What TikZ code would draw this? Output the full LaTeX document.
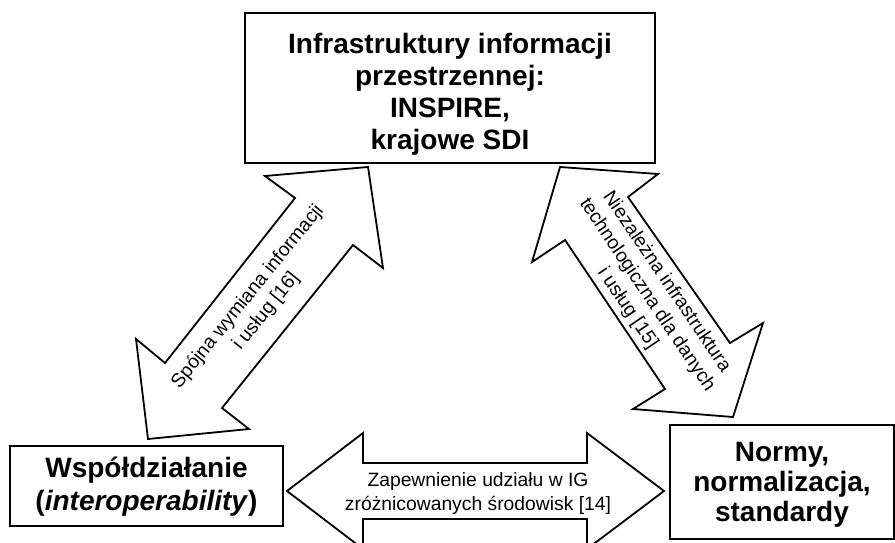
\documentclass[tikz,border=0pt]{standalone}
\usepackage{fontspec}
\setmainfont{Liberation Sans}
\begin{document}
\begin{tikzpicture}[x=1pt,y=-1pt,
  box/.style={draw=black, line width=2.2pt, rectangle, inner sep=0pt},
  title/.style={font=\fontsize{28}{32}\selectfont\bfseries, align=center, inner sep=0pt},
  blockarrow/.style={draw=black, line width=1.8pt, fill=white, line join=miter},
  note/.style={font=\fontsize{19.3}{23.5}\selectfont, align=center, inner sep=0pt}]
\clip (0,0) rectangle (895,542);
\fill[white] (0,0) rectangle (895,542);

% the three boxes
\node[box, minimum width=410pt, minimum height=150pt] (sdi) at (450,88) {};
\node[box, minimum width=273pt, minimum height=80pt] (interop) at (146.5,486) {};
\node[box, minimum width=224pt, minimum height=114pt] (norms) at (782,482) {};

\node[title] (sditext) at (450,94) {Infrastruktury informacji\\ przestrzennej:\\ INSPIRE,\\ krajowe SDI};
\node[title, font=\fontsize{28}{33}\selectfont\bfseries] (interoptext) at (146.5,486.5) {Współdziałanie\\ (\textit{interoperability})};
\node[title, font=\fontsize{28}{30}\selectfont\bfseries] (normstext) at (782,485) {Normy,\\ normalizacja,\\ standardy};

% block double arrows between the boxes
\draw[blockarrow] (368,167) coordinate (la1) -- (383,268) -- (353,245) -- (222,408) -- (249,429)
  -- (148,439) coordinate (la2) -- (136,339) -- (165,363) -- (295,198) -- (265,176) -- cycle;
\draw[blockarrow] (560,167) coordinate (ra1) -- (658,174) -- (628,197) -- (730,343) -- (763,323)
  -- (733,417) coordinate (ra2) -- (633,409) -- (665,389) -- (565,240) -- (532,262) -- cycle;
\draw[blockarrow] (287,491) coordinate (ba1) -- (363,433) -- (363,463) -- (587,463) -- (587,433)
  -- (664,491) coordinate (ba2) -- (587,549) -- (587,519) -- (363,519) -- (363,549) -- cycle;

% arrow labels
\node[note, rotate=51] (latext) at (257,304) {Spójna wymiana informacji\\ i usług [16]};
\node[note, rotate=-56] (ratext) at (647,295) {Niezależna infrastruktura\\ technologiczna dla danych\\ i usług [15]};
\node[note] (batext) at (478,493.5) {Zapewnienie udziału w IG\\ zróżnicowanych środowisk [14]};
\end{tikzpicture}
\end{document}
